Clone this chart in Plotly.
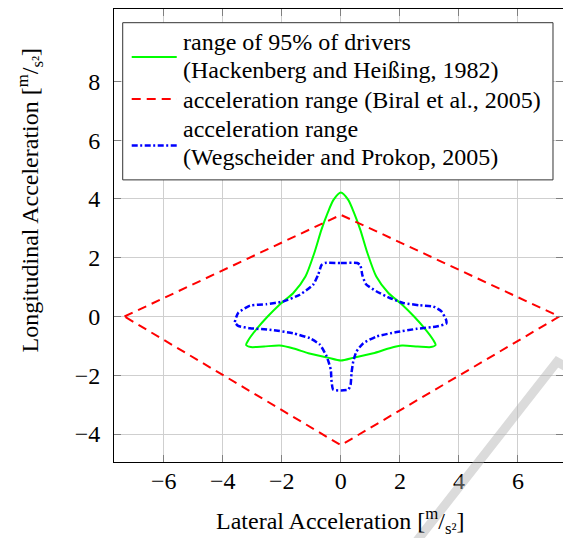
import plotly.graph_objects as go

# ---- data ----
green_x = [0.0, 0.25, 0.45, 0.66, 0.9, 1.2, 1.61, 2.06, 2.48, 2.85, 3.13, 3.21, 3.05, 2.6, 2.07, 1.65, 1.1, 0.45, 0.0,
           -0.45, -1.1, -1.6, -2.07, -2.6, -3.05, -3.21, -3.13, -2.85, -2.48, -2.06, -1.61, -1.2, -0.9, -0.66, -0.45, -0.25, 0.0]
green_y = [4.22, 3.97, 3.52, 2.95, 2.16, 1.36, 0.8, 0.42, 0.0, -0.42, -0.8, -0.97, -1.04, -1.02, -0.99, -1.08, -1.25, -1.4, -1.5,
           -1.4, -1.25, -1.09, -0.99, -1.02, -1.04, -0.97, -0.8, -0.42, 0.0, 0.42, 0.8, 1.36, 2.16, 2.95, 3.52, 3.97, 4.22]

red_x = [-7.33, 0.0, 7.4, 0.0, -7.33]
red_y = [0.0, 3.46, 0.0, -4.38, 0.0]

blue_x = [-0.54, 0.0, 0.56, 0.66, 0.73, 0.85, 1.2, 1.66, 2.11, 2.68, 3.13, 3.4, 3.56, 3.57, 3.24, 2.57, 1.89, 1.21, 0.76,
          0.53, 0.42, 0.36, 0.33, 0.25, 0.0, -0.26, -0.32, -0.34, -0.48, -0.71, -1.05, -1.62, -2.41, -3.08, -3.48, -3.59,
          -3.48, -3.08, -2.52, -1.96, -1.39, -0.94, -0.77, -0.65, -0.54]
blue_y = [1.82, 1.82, 1.82, 1.74, 1.4, 1.1, 0.86, 0.63, 0.46, 0.38, 0.34, 0.18, -0.1, -0.24, -0.34, -0.42, -0.53, -0.68, -0.91,
          -1.19, -1.53, -1.93, -2.32, -2.49, -2.52, -2.49, -2.15, -1.81, -1.36, -0.96, -0.74, -0.57, -0.45, -0.4, -0.32, -0.2,
          0.12, 0.37, 0.42, 0.51, 0.74, 1.08, 1.42, 1.76, 1.82]

series_names = ["range of 95% of drivers (Hackenberg and Heißing, 1982)",
                "acceleration range (Biral et al., 2005)",
                "acceleration range (Wegscheider and Prokop, 2005)"]
legend_lines = [["range of 95% of drivers", "(Hackenberg and Heißing, 1982)"],
                ["acceleration range (Biral et al., 2005)"],
                ["acceleration range", "(Wegscheider and Prokop, 2005)"]]

x_ticks = [-6, -4, -2, 0, 2, 4, 6]
y_ticks = [-4, -2, 0, 2, 4, 6, 8]

x_title = "Lateral Acceleration [<sup>m</sup>/<sub>s²</sub>]"
y_title = "Longitudinal Acceleration [<sup>m</sup>/<sub>s²</sub>]"

FONT = "Liberation Serif"
FS = 24
colors = ["#00ff00", "#ff0000", "#0000ff"]
dashes = ["solid", "9px,6px", "6px,2.5px,2px,2.5px"]
widths = [2, 2, 2.5]

fig = go.Figure()
fig.add_trace(go.Scatter(x=green_x, y=green_y, mode="lines", name=series_names[0],
                         line=dict(color=colors[0], width=widths[0], shape="spline", smoothing=0.7)))
fig.add_trace(go.Scatter(x=red_x, y=red_y, mode="lines", name=series_names[1],
                         line=dict(color=colors[1], width=widths[1], dash=dashes[1])))
fig.add_trace(go.Scatter(x=blue_x, y=blue_y, mode="lines", name=series_names[2],
                         line=dict(color=colors[2], width=widths[2], dash=dashes[2],
                                   shape="spline", smoothing=0.5)))

W, H = 563, 538
L, T, B = 114.3, 9.0, 462.3
x0 = -7.685
x1 = x0 + (W - L) / 29.5
y1 = (316.7 - T) / 29.4
y0 = -(B - 316.7) / 29.4


def px2paper(px, py):
    return (px - L) / (W - L), (B - py) / (B - T)


axis_common = dict(
    showline=True, linecolor="black", linewidth=1,
    showgrid=True, gridcolor="#cfcfcf", gridwidth=1,
    zeroline=False, ticks="inside", ticklen=7, tickcolor="#808080", tickwidth=1,
    mirror="ticks",
    tickfont=dict(family=FONT, size=FS, color="black"),
)

fig.update_layout(
    width=W, height=H,
    margin=dict(l=L, r=0, t=T, b=H - B, pad=0),
    paper_bgcolor="white", plot_bgcolor="white",
    font=dict(family=FONT, size=FS, color="black"),
    xaxis=dict(range=[x0, x1], tickvals=x_ticks, ticklabelstandoff=-3, **axis_common),
    yaxis=dict(range=[y0, y1], tickvals=y_ticks, ticklabelstandoff=8, **axis_common),
    showlegend=False,
)

# axis titles
ax, ay = px2paper(341, 521)
fig.add_annotation(text=x_title, xref="paper", yref="paper", x=ax, y=ay,
                   xanchor="center", yanchor="middle", showarrow=False,
                   font=dict(family=FONT, size=FS, color="black"))
ax, ay = px2paper(30, 200)
fig.add_annotation(text=y_title, xref="paper", yref="paper", x=ax, y=ay,
                   xanchor="center", yanchor="middle", textangle=-90, showarrow=False,
                   font=dict(family=FONT, size=FS, color="black"))

# legend box (drawn to match the reference's layout)
bx0, by0 = px2paper(123, 180)
bx1, by1 = px2paper(553, 22.7)
fig.add_shape(type="rect", xref="paper", yref="paper", x0=bx0, y0=by0, x1=bx1, y1=by1,
              fillcolor="white", line=dict(color="#333333", width=1), layer="above")
sample_y = [57, 99, 145.5]
text_y = [[42, 70], [100], [129.5, 157]]
for i in range(3):
    sx0, sy = px2paper(132, sample_y[i])
    sx1, _ = px2paper(177, sample_y[i])
    fig.add_shape(type="line", xref="paper", yref="paper", x0=sx0, x1=sx1, y0=sy, y1=sy,
                  line=dict(color=colors[i], width=widths[i], dash=dashes[i]), layer="above")
    for line_text, ty in zip(legend_lines[i], text_y[i]):
        tx, typ = px2paper(181, ty)
        fig.add_annotation(text=line_text, xref="paper", yref="paper", x=tx, y=typ,
                           xanchor="left", yanchor="middle", showarrow=False,
                           font=dict(family=FONT, size=FS, color="black"))

# watermark stroke (light grey band at the lower right)
wx0, wy0 = px2paper(414, 545)
wx1, wy1 = px2paper(557, 362)
wx2, wy2 = px2paper(566, 367)
fig.add_shape(type="path", xref="paper", yref="paper",
              path=f"M{wx0},{wy0} L{wx1},{wy1} L{wx2},{wy2}",
              line=dict(color="rgba(175,175,175,0.45)", width=9), layer="above")

fig.write_html("out.html", config={"displayModeBar": False},
               post_script="document.body.style.margin='0';document.body.style.overflow='hidden';")
